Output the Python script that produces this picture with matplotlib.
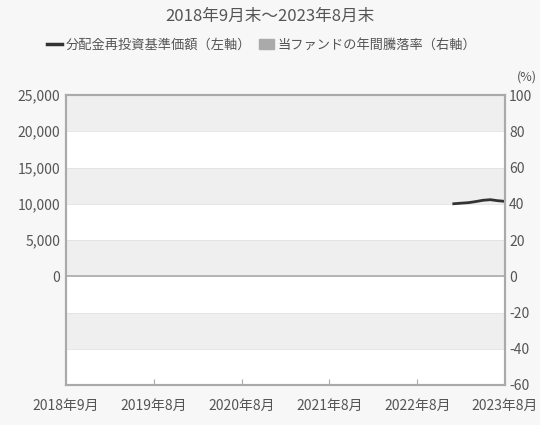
import matplotlib.pyplot as plt
from matplotlib.lines import Line2D
from matplotlib.patches import Patch

plt.rcParams['font.family'] = ['Noto Sans CJK JP', 'DejaVu Sans']
plt.rcParams['axes.unicode_minus'] = False

# month index from 2018-08 end (0) to 2023-08 end (60)
months = [53, 54, 55, 56, 57, 58, 59, 60]
nav = [10000, 10080, 10150, 10300, 10480, 10560, 10420, 10330]

x_ticks = [0, 12, 24, 36, 48, 60]
x_labels = ["2018年9月", "2019年8月", "2020年8月", "2021年8月", "2022年8月", "2023年8月"]
left_ticks = [0, 5000, 10000, 15000, 20000, 25000]
right_ticks = [-60, -40, -20, 0, 20, 40, 60, 80, 100]

txt = "#555555"
fig = plt.figure(figsize=(5.4, 4.25), dpi=100, facecolor="#f7f7f7")
ax = fig.add_axes([66 / 540, 40 / 425, 439 / 540, 290 / 425])
ax2 = ax.twinx()

# bands drawn on left scale (right = left / 250)
ax.set_facecolor("white")
for lo in [20000, 10000, 0, -10000]:
    ax.axhspan(lo, lo + 5000, color="#efefef", lw=0, zorder=0)
for y in range(-10000, 25000, 5000):
    ax.axhline(y, color="#e2e2e2", lw=0.6, zorder=0.5)
ax.axhline(0, color="#aaaaaa", lw=1.2, zorder=1)

ax.plot(months, nav, color="#333333", lw=2.0, zorder=3)

ax.set_xlim(0, 60)
ax.set_ylim(-15000, 25000)
ax2.set_ylim(-60, 100)

ax.set_xticks(x_ticks)
ax.set_xticklabels(x_labels)
ax.set_yticks(left_ticks)
ax.set_yticklabels([f"{v:,}" for v in left_ticks])
ax2.set_yticks(right_ticks)

ax.tick_params(axis="x", direction="in", length=4, color="#aaaaaa", labelsize=10, labelcolor=txt, pad=10)
ax.tick_params(axis="y", length=0, labelsize=10, labelcolor=txt, pad=4)
ax2.tick_params(axis="y", length=0, labelsize=10, labelcolor=txt, pad=3)
for a in (ax, ax2):
    for s in a.spines.values():
        s.set_color("#aaaaaa")
        s.set_linewidth(1.5)

fig.text(0.5, 0.962, "2018年9月末～2023年8月末", ha="center", va="center", fontsize=12, color=txt)
handles = [Line2D([0], [0], color="#333333", lw=2.5), Patch(color="#aaaaaa")]
fig.legend(handles, ["分配金再投資基準価額（左軸）", "当ファンドの年間騰落率（右軸）"],
           loc="center", bbox_to_anchor=(0.485, 0.894), ncol=2, frameon=False,
           fontsize=9.5, labelcolor=txt, handlelength=1.1, handleheight=0.8,
           handletextpad=0.3, columnspacing=0.6)
fig.text(0.995, 0.818, "(%)", ha="right", va="center", fontsize=9, color=txt)

fig.savefig("out.png", dpi=100, facecolor=fig.get_facecolor())
